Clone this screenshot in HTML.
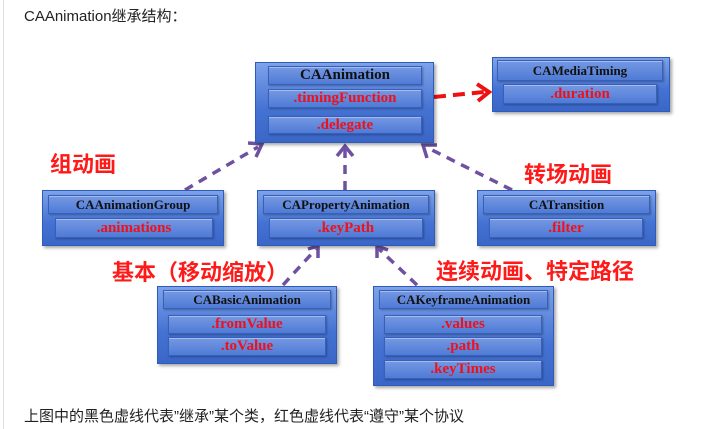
<!DOCTYPE html>
<html><head><meta charset="utf-8"><style>
body{margin:0;width:714px;height:429px;background:#fff;position:relative;overflow:hidden;font-family:"Liberation Sans","Noto Sans CJK SC",sans-serif}
.lb{position:absolute;left:3px;top:0;width:1px;height:429px;background:#ddd}
.t{position:absolute;font-size:15px;color:#222;white-space:nowrap}
.box{position:absolute;background:linear-gradient(#7ea2ea,#4472d2 60%,#3a66c8);border:1px solid #2f5cb8;box-shadow:2px 2px 3px rgba(0,0,0,.35)}
.row{position:absolute;background:linear-gradient(#7598e2,#4f7bd6);border:1px solid #3560bb;box-shadow:inset 0 1px 0 rgba(255,255,255,.35),1px 1px 2px rgba(0,0,0,.3);text-align:center;font-family:"Liberation Serif",serif;font-weight:bold;white-space:nowrap}
.h{color:#111;font-size:13px}
.a{color:#f0101a;font-size:15px}
.lab{position:absolute;color:#ff1a1a;font-size:22px;font-weight:bold;font-family:"Liberation Sans","Noto Sans CJK SC",sans-serif;text-shadow:0 0 2px #fff,0 0 3px #fff;white-space:nowrap}
</style></head><body>
<div class="lb"></div>
<div class="t" style="left:24px;top:5px">CAAnimation继承结构：</div>

<svg width="714" height="429" style="position:absolute;left:0;top:0">
<g stroke="#6e52a0" stroke-width="3.5" fill="none" stroke-dasharray="9,7">
<line x1="185" y1="190" x2="258" y2="147"/>
<line x1="345" y1="190" x2="345" y2="148"/>
<line x1="512" y1="190" x2="428" y2="148"/>
<line x1="283" y1="285" x2="316" y2="249"/>
<line x1="417" y1="285" x2="379" y2="249"/>
</g>
<g stroke="#6e52a0" stroke-width="3.5" fill="none">
<polyline points="248,143 262,144 256,157"/>
<polyline points="337,156 345,146 353,156"/>
<polyline points="427,158 423,145 437,145"/>
<polyline points="308,249 318,246 318,258"/>
<polyline points="377,258 377,246 388,250"/>
</g>
<line x1="434" y1="97" x2="484" y2="92" stroke="#ee1111" stroke-width="4" stroke-dasharray="12,7"/>
<polyline points="477,84 489,92 478,101" stroke="#ee1111" stroke-width="4" fill="none"/>
</svg>

<div class="box" style="left:255px;top:62px;width:177px;height:79px">
<div class="row h" style="left:12px;top:3px;width:152px;height:17px;line-height:17px;font-size:15px">CAAnimation</div>
<div class="row a" style="left:12px;top:26px;width:152px;height:17px;line-height:17px">.timingFunction</div>
<div class="row a" style="left:12px;top:53px;width:152px;height:16px;line-height:16px">.delegate</div>
</div>
<div class="box" style="left:492px;top:57px;width:176px;height:53px">
<div class="row h" style="left:4px;top:2px;width:164px;height:19px;line-height:19px">CAMediaTiming</div>
<div class="row a" style="left:10px;top:26px;width:152px;height:18px;line-height:18px">.duration</div>
</div>

<div class="box" style="left:42px;top:190px;width:180px;height:54px">
<div class="row h" style="left:5px;top:4px;width:168px;height:17px;line-height:17px">CAAnimationGroup</div>
<div class="row a" style="left:12px;top:27px;width:156px;height:18px;line-height:18px">.animations</div>
</div>
<div class="box" style="left:257px;top:190px;width:176px;height:54px">
<div class="row h" style="left:5px;top:4px;width:164px;height:17px;line-height:17px">CAPropertyAnimation</div>
<div class="row a" style="left:11px;top:27px;width:152px;height:18px;line-height:18px">.keyPath</div>
</div>
<div class="box" style="left:477px;top:190px;width:177px;height:54px">
<div class="row h" style="left:5px;top:4px;width:165px;height:17px;line-height:17px">CATransition</div>
<div class="row a" style="left:11px;top:27px;width:152px;height:18px;line-height:18px">.filter</div>
</div>

<div class="box" style="left:157px;top:286px;width:178px;height:76px">
<div class="row h" style="left:5px;top:3px;width:166px;height:17px;line-height:17px">CABasicAnimation</div>
<div class="row a" style="left:10px;top:28px;width:156px;height:17px;line-height:17px">.fromValue</div>
<div class="row a" style="left:10px;top:50px;width:156px;height:17px;line-height:17px">.toValue</div>
</div>
<div class="box" style="left:373px;top:286px;width:179px;height:98px">
<div class="row h" style="left:5px;top:3px;width:167px;height:17px;line-height:17px">CAKeyframeAnimation</div>
<div class="row a" style="left:10px;top:28px;width:156px;height:17px;line-height:17px">.values</div>
<div class="row a" style="left:10px;top:50px;width:156px;height:17px;line-height:17px">.path</div>
<div class="row a" style="left:10px;top:73px;width:156px;height:17px;line-height:17px">.keyTimes</div>
</div>

<div class="lab" style="left:50px;top:147px">组动画</div>
<div class="lab" style="left:524px;top:157px">转场动画</div>
<div class="lab" style="left:112px;top:255px">基本（移动缩放）</div>
<div class="lab" style="left:436px;top:254px">连续动画、特定路径</div>

<div class="t" style="left:24px;top:405px">上图中的黑色虚线代表”继承”某个类，红色虚线代表“遵守”某个协议</div>
</body></html>
